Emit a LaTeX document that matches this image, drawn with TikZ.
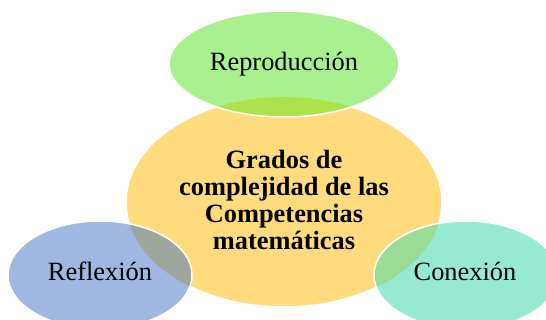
\documentclass[tikz,border=0pt]{standalone}
\usepackage{fontspec}
\setmainfont{Liberation Serif}
\usetikzlibrary{backgrounds}

\definecolor{amarillo}{HTML}{FFDB7E}
\definecolor{verde}{HTML}{A9F18F}
\definecolor{verdeosc}{HTML}{AEE24C}
\definecolor{azul}{HTML}{A0B7E1}
\definecolor{gris}{HTML}{9FA69E}
\definecolor{turquesa}{HTML}{96EAD2}
\definecolor{verdemed}{HTML}{99DC95}

\begin{document}
\begin{tikzpicture}[x=1pt,y=-1pt,
  borde/.style={draw=white,line width=1.5pt},
  texto/.style={font=\fontsize{26.4}{27.3}\selectfont,anchor=base,inner sep=0pt}]

  \useasboundingbox (0,0) rectangle (546,320);

  % centro
  \fill[amarillo] (284,202) ellipse [x radius=158,y radius=105];
  \draw[borde] (284,202) ellipse [x radius=158,y radius=105];

  % arriba
  \fill[verde] (284,64) ellipse [x radius=115,y radius=53];
  \begin{scope}
    \clip (284,202) ellipse [x radius=158,y radius=105];
    \fill[verdeosc] (284,64) ellipse [x radius=115,y radius=53];
  \end{scope}
  \draw[borde] (284,64) ellipse [x radius=115,y radius=53];

  % izquierda
  \fill[azul] (100,275) ellipse [x radius=92,y radius=54];
  \begin{scope}
    \clip (284,202) ellipse [x radius=158,y radius=105];
    \fill[gris] (100,275) ellipse [x radius=92,y radius=54];
  \end{scope}
  \draw[borde] (100,275) ellipse [x radius=92,y radius=54];

  % derecha
  \fill[turquesa] (466,275) ellipse [x radius=92,y radius=54];
  \begin{scope}
    \clip (284,202) ellipse [x radius=158,y radius=105];
    \fill[verdemed] (466,275) ellipse [x radius=92,y radius=54];
  \end{scope}
  \draw[borde] (466,275) ellipse [x radius=92,y radius=54];

  \node[texto] at (284,71) (repro) {Reproducción};
  \node[texto] at (100,280) (refl) {Reflexión};
  \node[texto] at (465,281) (conex) {Conexión};
  \node[texto,anchor=center,align=center,font=\fontsize{26.4}{27.3}\selectfont\bfseries]
    at (284,200) (grados) {Grados de\\complejidad de las\\Competencias\\matemáticas};

\end{tikzpicture}
\end{document}
